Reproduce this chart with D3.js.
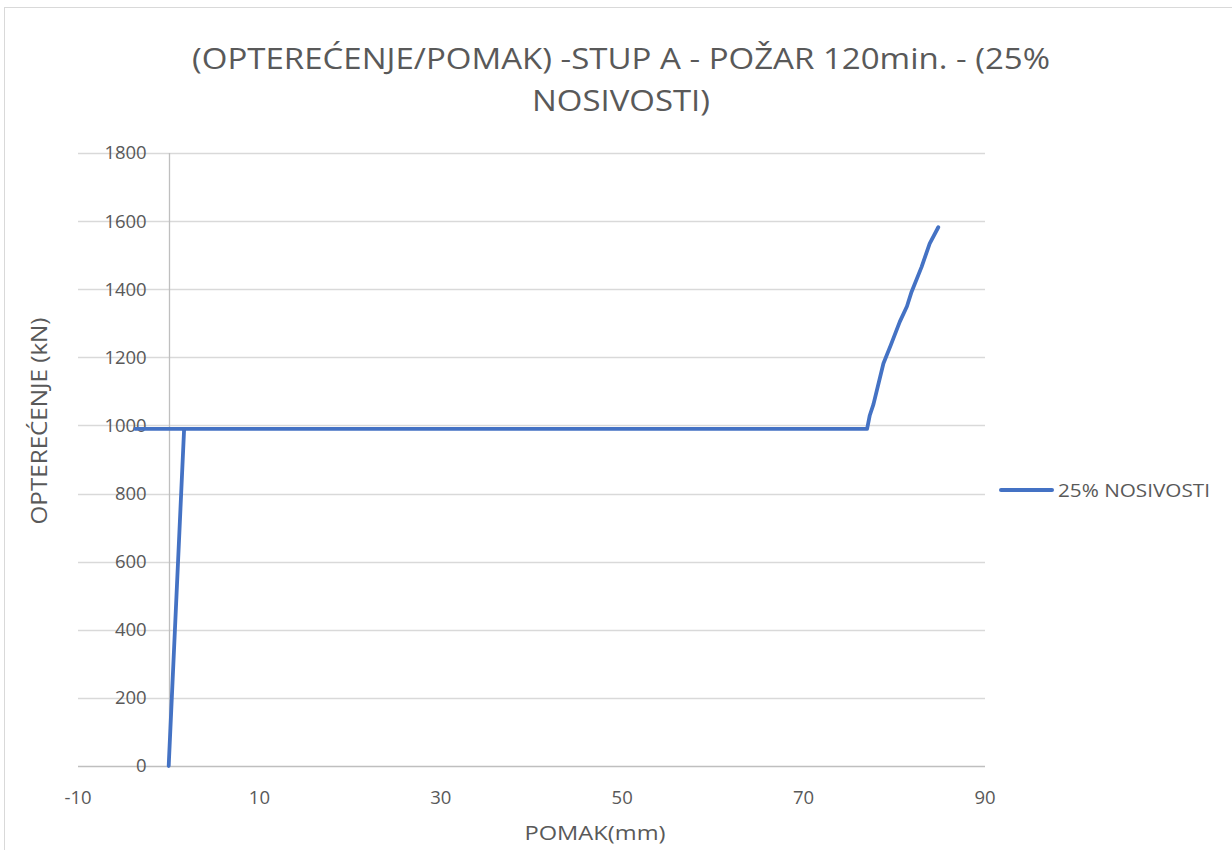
<!DOCTYPE html>
<html>
<head>
<meta charset="utf-8">
<script src="https://cdn.jsdelivr.net/npm/d3@7"></script>
<style>
  html, body { margin: 0; padding: 0; background: #fff; }
  svg { display: block; }
  text { font-family: "Open Sans", "Noto Sans", sans-serif; fill: #595959; }
</style>
</head>
<body>
<svg id="chart" width="1232" height="850"></svg>
<script>
// Displacement (mm) and load (kN) for the column under fire, 25% capacity
const pomak       = [0, 1.7, -3.7, 77.0, 77.3, 77.7, 78.8, 79.6, 80.6, 81.4, 81.9, 83.0, 83.9, 84.85];
const opterecenje = [0, 990, 990, 990, 1030, 1062, 1182, 1235, 1304, 1350, 1392, 1465, 1534, 1582];

const xTicks = [-10, 10, 30, 50, 70, 90];
const yTicks = [0, 200, 400, 600, 800, 1000, 1200, 1400, 1600, 1800];

const titleLines = ["(OPTEREĆENJE/POMAK) -STUP A - POŽAR 120min. - (25%", "NOSIVOSTI)"];
const xTitle = "POMAK(mm)";
const yTitle = "OPTEREĆENJE (kN)";
const seriesName = "25% NOSIVOSTI";

const blue = "#4472C4";
const svg = d3.select("#chart");

// chart frame
svg.append("rect")
  .attr("x", 4.5).attr("y", 7.5)
  .attr("width", 1300).attr("height", 900)
  .attr("fill", "#fff").attr("stroke", "#d9d9d9").attr("stroke-width", 1);

const x = d3.scaleLinear().domain([-10, 90]).range([78, 985]);
const y = d3.scaleLinear().domain([0, 1800]).range([766, 153]);

// horizontal gridlines
svg.append("g").selectAll("line").data(yTicks.filter(d => d > 0)).join("line")
  .attr("x1", x(-10)).attr("x2", x(90))
  .attr("y1", d => Math.round(y(d)) + 0.5).attr("y2", d => Math.round(y(d)) + 0.5)
  .attr("stroke", "#d9d9d9").attr("stroke-width", 1.3);

// value axis drawn at x = 0
svg.append("line")
  .attr("x1", Math.round(x(0)) + 0.5).attr("x2", Math.round(x(0)) + 0.5)
  .attr("y1", y(1800)).attr("y2", y(0))
  .attr("stroke", "#bfbfbf").attr("stroke-width", 1.3);

// category axis at y = 0
svg.append("line")
  .attr("x1", x(-10)).attr("x2", x(90))
  .attr("y1", Math.round(y(0)) + 0.5).attr("y2", Math.round(y(0)) + 0.5)
  .attr("stroke", "#bfbfbf").attr("stroke-width", 1.3);

// y tick labels next to the x = 0 axis
svg.append("g").selectAll("text").data(yTicks).join("text")
  .attr("x", x(0) - 22).attr("y", d => y(d))
  .attr("dy", "0.35em").attr("text-anchor", "end")
  .attr("font-size", 18.5)
  .text(d => d);

// x tick labels
svg.append("g").selectAll("text").data(xTicks).join("text")
  .attr("x", d => x(d)).attr("y", 798)
  .attr("dy", "0.35em").attr("text-anchor", "middle")
  .attr("font-size", 18.5)
  .text(d => d);

// series line
const line = d3.line().x((d, i) => x(pomak[i])).y(d => y(d));
svg.append("path")
  .datum(opterecenje)
  .attr("d", line)
  .attr("fill", "none").attr("stroke", blue)
  .attr("stroke-width", 3.8)
  .attr("stroke-linejoin", "round").attr("stroke-linecap", "round");

// title
svg.append("g").selectAll("text").data(titleLines).join("text")
  .attr("x", 621).attr("y", (d, i) => 69 + i * 42)
  .attr("text-anchor", "middle")
  .attr("font-size", 29)
  .attr("textLength", (d, i) => i === 0 ? 858 : 178)
  .attr("lengthAdjust", "spacingAndGlyphs")
  .text(d => d);

// axis titles
svg.append("text")
  .attr("x", 595).attr("y", 840)
  .attr("text-anchor", "middle").attr("font-size", 20)
  .attr("textLength", 141).attr("lengthAdjust", "spacingAndGlyphs")
  .text(xTitle);

svg.append("text")
  .attr("transform", "translate(47,421) rotate(-90)")
  .attr("text-anchor", "middle").attr("font-size", 21)
  .attr("textLength", 207).attr("lengthAdjust", "spacingAndGlyphs")
  .text(yTitle);

// legend
svg.append("line")
  .attr("x1", 1001).attr("x2", 1052).attr("y1", 490).attr("y2", 490)
  .attr("stroke", blue).attr("stroke-width", 4).attr("stroke-linecap", "round");
svg.append("text")
  .attr("x", 1058).attr("y", 490).attr("dy", "0.35em")
  .attr("font-size", 19)
  .attr("textLength", 152).attr("lengthAdjust", "spacingAndGlyphs")
  .text(seriesName);
</script>
</body>
</html>
